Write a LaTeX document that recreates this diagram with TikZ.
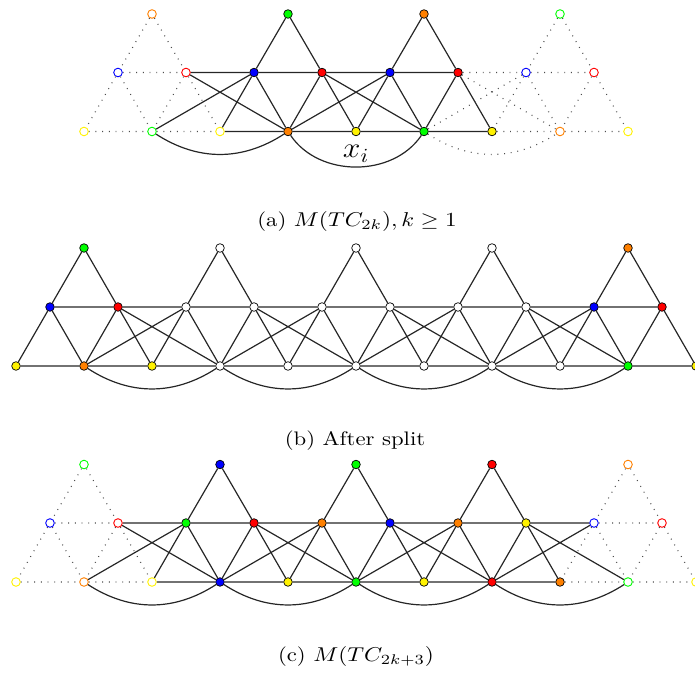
\documentclass[tikz,border=0pt]{standalone}
\usepackage{amsmath}
\begin{document}
\begin{tikzpicture}[x=0.5pt,y=0.5pt,
  fn/.style={circle,draw=black,line width=0.35pt,minimum size=4.3pt,inner sep=0pt},
  gn/.style={circle,fill=white,line width=0.45pt,minimum size=4.3pt,inner sep=0pt},
  wn/.style={fn,fill=white},
  ln/.style={line width=0.6pt,black!85},
  dl/.style={line width=0.55pt,black!70,dash pattern=on 0.45pt off 2.9pt},
  captext/.style={font=\fontsize{9.8}{12}\selectfont,inner sep=0pt,anchor=base}]
\useasboundingbox (0,0) rectangle (695,-673);
%% ---------------- panel (a) ----------------
% bottom
\node[gn,draw=yellow] (a0) at (84,-131.5) {};
\node[gn,draw=green]  (a1) at (152,-131.5) {};
\node[gn,draw=yellow] (a2) at (220,-131.5) {};
\node[fn,fill=orange] (a3) at (288,-131.5) {};
\node[fn,fill=yellow] (a4) at (356,-131.5) {};
\node[fn,fill=green]  (a5) at (424,-131.5) {};
\node[fn,fill=yellow] (a6) at (492,-131.5) {};
\node[gn,draw=orange] (a7) at (560,-131.5) {};
\node[gn,draw=yellow] (a8) at (628,-131.5) {};
% middle
\node[gn,draw=blue] (am0) at (118,-72.5) {};
\node[gn,draw=red]  (am1) at (186,-72.5) {};
\node[fn,fill=blue] (am2) at (254,-72.5) {};
\node[fn,fill=red]  (am3) at (322,-72.5) {};
\node[fn,fill=blue] (am4) at (390,-72.5) {};
\node[fn,fill=red]  (am5) at (458,-72.5) {};
\node[gn,draw=blue] (am6) at (526,-72.5) {};
\node[gn,draw=red]  (am7) at (594,-72.5) {};
% top
\node[gn,draw=orange] (at0) at (152,-14) {};
\node[fn,fill=green]  (at1) at (288,-14) {};
\node[fn,fill=orange] (at2) at (424,-14) {};
\node[gn,draw=green]  (at3) at (560,-14) {};
% dotted left ghost
\draw[dl] (at0)--(am0) (at0)--(am1) (am0)--(am1) (am0)--(a0) (am0)--(a1)
          (am1)--(a1) (am1)--(a2) (a0)--(a1) (a1)--(a2);
% solid part
\draw[ln] (at1)--(am2) (at1)--(am3) (am2)--(am3) (am2)--(a2) (am2)--(a3)
          (am3)--(a3) (am3)--(a4)
          (at2)--(am4) (at2)--(am5) (am4)--(am5) (am4)--(a4) (am4)--(a5)
          (am5)--(a5) (am5)--(a6)
          (am1)--(am2) (am3)--(am4)
          (a2)--(a3) (a3)--(a4) (a4)--(a5) (a5)--(a6)
          (am1)--(a3) (am2)--(a1) (am3)--(a5) (am4)--(a3);
\draw[ln] (a1) to[bend right=33] (a3);
\draw[ln] (a3) to[bend right=56] (a5);
% dotted right ghost
\draw[dl] (am5)--(am6) (am6)--(am7) (at3)--(am6) (at3)--(am7) (am6)--(a6)
          (am6)--(a7) (am7)--(a7) (am7)--(a8) (a6)--(a7) (a7)--(a8)
          (am5)--(a7) (am6)--(a5);
\draw[dl] (a5) to[bend right=33] (a7);
\node[inner sep=0pt,anchor=base west,font=\fontsize{14.6}{17}\selectfont] (xi) at (342.5,-158) {\scalebox{1.1}[1]{$x_i$}};
\node[captext] (capa) at (357,-227) {\scalebox{1.16}[1]{(a) $M(TC_{2k}), k \geq 1$}};
%% ---------------- panel (b) ----------------
\node[fn,fill=yellow] (b0) at (16,-366) {};
\node[fn,fill=orange] (b1) at (84,-366) {};
\node[fn,fill=yellow] (b2) at (152,-366) {};
\node[wn] (b3) at (220,-366) {};
\node[wn] (b4) at (288,-366) {};
\node[wn] (b5) at (356,-366) {};
\node[wn] (b6) at (424,-366) {};
\node[wn] (b7) at (492,-366) {};
\node[wn] (b8) at (560,-366) {};
\node[fn,fill=green]  (b9) at (628,-366) {};
\node[fn,fill=yellow] (b10) at (696,-366) {};
\node[fn,fill=blue] (bm0) at (50,-307) {};
\node[fn,fill=red]  (bm1) at (118,-307) {};
\node[wn] (bm2) at (186,-307) {};
\node[wn] (bm3) at (254,-307) {};
\node[wn] (bm4) at (322,-307) {};
\node[wn] (bm5) at (390,-307) {};
\node[wn] (bm6) at (458,-307) {};
\node[wn] (bm7) at (526,-307) {};
\node[fn,fill=blue] (bm8) at (594,-307) {};
\node[fn,fill=red]  (bm9) at (662,-307) {};
\node[fn,fill=green]  (bt0) at (84,-248) {};
\node[wn] (bt1) at (220,-248) {};
\node[wn] (bt2) at (356,-248) {};
\node[wn] (bt3) at (492,-248) {};
\node[fn,fill=orange] (bt4) at (628,-248) {};
\foreach \t [evaluate=\t as \ml using int(2*\t),
             evaluate=\t as \mr using int(2*\t+1),
             evaluate=\t as \bl using int(2*\t),
             evaluate=\t as \bm using int(2*\t+1),
             evaluate=\t as \br using int(2*\t+2)] in {0,...,4}{
  \draw[ln] (bt\t)--(bm\ml) (bt\t)--(bm\mr) (bm\ml)--(bm\mr)
            (bm\ml)--(b\bl) (bm\ml)--(b\bm) (bm\mr)--(b\bm) (bm\mr)--(b\br)
            (b\bl)--(b\bm) (b\bm)--(b\br);
}
\foreach \t [evaluate=\t as \mr using int(2*\t+1),
             evaluate=\t as \mn using int(2*\t+2),
             evaluate=\t as \bm using int(2*\t+1),
             evaluate=\t as \bn using int(2*\t+3)] in {0,...,3}{
  \draw[ln] (bm\mr)--(bm\mn) (bm\mr)--(b\bn) (bm\mn)--(b\bm);
  \draw[ln] (b\bm) to[bend right=33] (b\bn);
}
\node[captext] (capb) at (355,-445) {\scalebox{1.16}[1]{(b) After split}};
%% ---------------- panel (c) ----------------
\node[gn,draw=yellow] (c0) at (16,-582) {};
\node[gn,draw=orange] (c1) at (84,-582) {};
\node[gn,draw=yellow] (c2) at (152,-582) {};
\node[fn,fill=blue]   (c3) at (220,-582) {};
\node[fn,fill=yellow] (c4) at (288,-582) {};
\node[fn,fill=green]  (c5) at (356,-582) {};
\node[fn,fill=yellow] (c6) at (424,-582) {};
\node[fn,fill=red]    (c7) at (492,-582) {};
\node[fn,fill=orange] (c8) at (560,-582) {};
\node[gn,draw=green]  (c9) at (628,-582) {};
\node[gn,draw=yellow] (c10) at (696,-582) {};
\node[gn,draw=blue]   (cm0) at (50,-523) {};
\node[gn,draw=red]    (cm1) at (118,-523) {};
\node[fn,fill=green]  (cm2) at (186,-523) {};
\node[fn,fill=red]    (cm3) at (254,-523) {};
\node[fn,fill=orange] (cm4) at (322,-523) {};
\node[fn,fill=blue]   (cm5) at (390,-523) {};
\node[fn,fill=orange] (cm6) at (458,-523) {};
\node[fn,fill=yellow] (cm7) at (526,-523) {};
\node[gn,draw=blue]   (cm8) at (594,-523) {};
\node[gn,draw=red]    (cm9) at (662,-523) {};
\node[gn,draw=green]  (ct0) at (84,-464.5) {};
\node[fn,fill=blue]   (ct1) at (220,-464.5) {};
\node[fn,fill=green]  (ct2) at (356,-464.5) {};
\node[fn,fill=red]    (ct3) at (492,-464.5) {};
\node[gn,draw=orange] (ct4) at (628,-464.5) {};
% ghost left
\draw[dl] (ct0)--(cm0) (ct0)--(cm1) (cm0)--(cm1) (cm0)--(c0) (cm0)--(c1)
          (cm1)--(c1) (cm1)--(c2) (c0)--(c1) (c1)--(c2);
% solid triangles 1..3
\foreach \t [evaluate=\t as \ml using int(2*\t),
             evaluate=\t as \mr using int(2*\t+1),
             evaluate=\t as \bl using int(2*\t),
             evaluate=\t as \bm using int(2*\t+1),
             evaluate=\t as \br using int(2*\t+2)] in {1,2,3}{
  \draw[ln] (ct\t)--(cm\ml) (ct\t)--(cm\mr) (cm\ml)--(cm\mr)
            (cm\ml)--(c\bl) (cm\ml)--(c\bm) (cm\mr)--(c\bm) (cm\mr)--(c\br)
            (c\bl)--(c\bm) (c\bm)--(c\br);
}
\foreach \t [evaluate=\t as \mr using int(2*\t+1),
             evaluate=\t as \mn using int(2*\t+2),
             evaluate=\t as \bm using int(2*\t+1),
             evaluate=\t as \bn using int(2*\t+3)] in {0,...,3}{
  \draw[ln] (cm\mr)--(cm\mn) (cm\mr)--(c\bn) (cm\mn)--(c\bm);
  \draw[ln] (c\bm) to[bend right=33] (c\bn);
}
% ghost right
\draw[dl] (ct4)--(cm8) (ct4)--(cm9) (cm8)--(cm9) (cm8)--(c8) (cm8)--(c9)
          (cm9)--(c9) (cm9)--(c10) (c8)--(c9) (c9)--(c10);
\node[captext] (capc) at (356,-661) {\scalebox{1.16}[1]{(c) $M(TC_{2k+3})$}};
\end{tikzpicture}
\end{document}
